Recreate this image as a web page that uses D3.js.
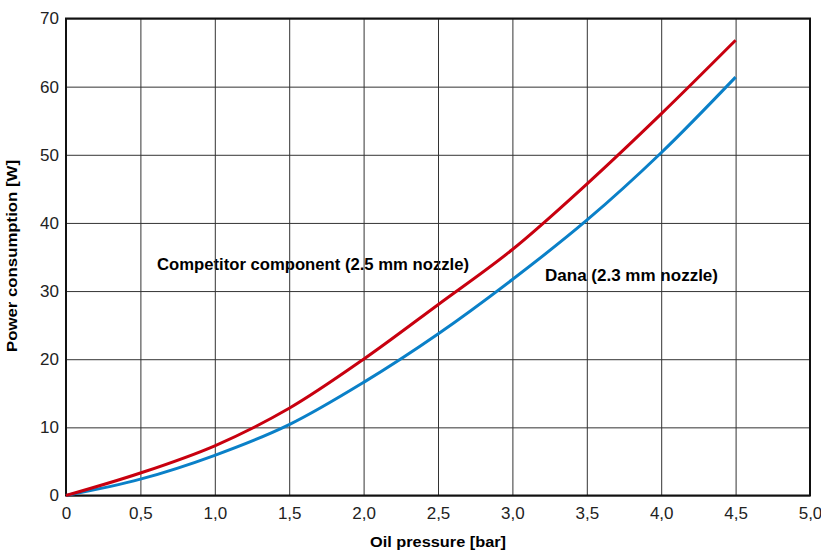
<!DOCTYPE html>
<html>
<head>
<meta charset="utf-8">
<script src="https://cdn.jsdelivr.net/npm/d3@7"></script>
<style>
  body { margin: 0; background: #fff; }
  text { font-family: "Liberation Sans", Arial, sans-serif; }
</style>
</head>
<body>
<div id="chart"></div>
<script>
// pressure in bar
var pressure = [0, 0.5, 1.0, 1.5, 2.0, 2.5, 3.0, 3.5, 4.0, 4.5];
// power consumption in W
var competitor = [0, 3.3, 7.3, 12.8, 20.0, 28.0, 36.1, 45.7, 56.0, 66.8];
var dana = [0, 2.4, 5.9, 10.4, 16.6, 23.7, 31.7, 40.4, 50.3, 61.4];
var xTicks = [0, 0.5, 1.0, 1.5, 2.0, 2.5, 3.0, 3.5, 4.0, 4.5, 5.0];
var yTicks = [0, 10, 20, 30, 40, 50, 60, 70];

var width = 821, height = 554;
var margin = {top: 18.5, right: 11, bottom: 58.5, left: 66};

var svg = d3.select("#chart")
  .append("svg")
  .attr("width", width)
  .attr("height", height);

var x = d3.scaleLinear().domain([0, 5]).range([margin.left, width - margin.right]);
var y = d3.scaleLinear().domain([0, 70]).range([height - margin.bottom, margin.top]);

var fmt = function(d) { return d === 0 ? "0" : d3.format(".1f")(d).replace(".", ","); };
var tickFont = "DejaVu Sans, Verdana, sans-serif";

// series labels (grid runs over them)
svg.append("text")
  .attr("x", 157).attr("y", 270)
  .attr("font-size", 16.5).attr("font-weight", "bold")
  .attr("textLength", 312).attr("lengthAdjust", "spacingAndGlyphs")
  .text("Competitor component (2.5 mm nozzle)");
svg.append("text")
  .attr("x", 545).attr("y", 280.5)
  .attr("font-size", 16.5).attr("font-weight", "bold")
  .attr("textLength", 173).attr("lengthAdjust", "spacingAndGlyphs")
  .text("Dana (2.3 mm nozzle)");

// grid
svg.append("g")
  .attr("transform", "translate(0," + (height - margin.bottom) + ")")
  .call(d3.axisBottom(x).tickValues(xTicks).tickSize(-(height - margin.top - margin.bottom)).tickFormat(fmt).tickPadding(11.5))
  .call(function(g) {
    g.select(".domain").remove();
    g.selectAll("line").attr("stroke", "#333").attr("stroke-width", 1);
    g.selectAll("text").attr("font-size", 17).attr("fill", "#222").attr("font-family", tickFont);
  });

svg.append("g")
  .attr("transform", "translate(" + margin.left + ",0)")
  .call(d3.axisLeft(y).tickValues(yTicks).tickSize(-(width - margin.left - margin.right)).tickPadding(7))
  .call(function(g) {
    g.select(".domain").remove();
    g.selectAll("line").attr("stroke", "#333").attr("stroke-width", 1);
    g.selectAll("text").attr("font-size", 17).attr("fill", "#222").attr("font-family", tickFont);
  });

// frame
svg.append("rect")
  .attr("x", x(0)).attr("y", y(70))
  .attr("width", x(5) - x(0)).attr("height", y(0) - y(70))
  .attr("fill", "none").attr("stroke", "#111").attr("stroke-width", 2);

// curves
var line = d3.line()
  .x(function(d) { return x(d[0]); })
  .y(function(d) { return y(d[1]); })
  .curve(d3.curveCatmullRom.alpha(0.5));

svg.append("path")
  .datum(d3.zip(pressure, dana))
  .attr("fill", "none").attr("stroke", "#0a80c8").attr("stroke-width", 3)
  .attr("d", line);

svg.append("path")
  .datum(d3.zip(pressure, competitor))
  .attr("fill", "none").attr("stroke", "#c8000f").attr("stroke-width", 3)
  .attr("d", line);

// axis titles
svg.append("text")
  .attr("x", 438).attr("y", 547)
  .attr("text-anchor", "middle")
  .attr("font-size", 14.5).attr("font-weight", "bold")
  .attr("textLength", 136).attr("lengthAdjust", "spacingAndGlyphs")
  .text("Oil pressure [bar]");

svg.append("text")
  .attr("transform", "translate(16.5," + 256 + ") rotate(-90)")
  .attr("text-anchor", "middle")
  .attr("font-size", 14.5).attr("font-weight", "bold")
  .attr("textLength", 192).attr("lengthAdjust", "spacingAndGlyphs")
  .text("Power consumption [W]");
</script>
</body>
</html>
